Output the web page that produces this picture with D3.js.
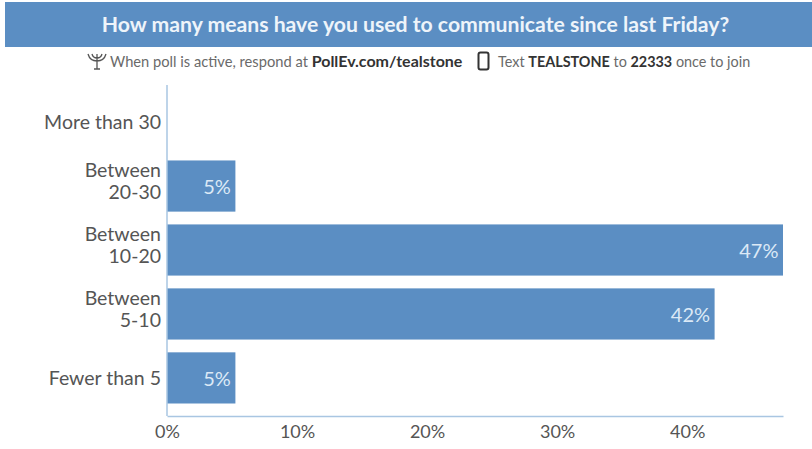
<!DOCTYPE html>
<html>
<head>
<meta charset="utf-8">
<script src="https://cdn.jsdelivr.net/npm/d3@7/dist/d3.min.js"></script>
<style>
html,body{margin:0;padding:0;background:#fff}
svg{display:block}
text{font-family:Lato,"Noto Sans",sans-serif}
</style>
</head>
<body>
<svg id="chart" width="812" height="449"></svg>
<script>
// Poll responses, top row first (shares of 19 responses, in percent)
const categories = ["More than 30", "Between 20-30", "Between 10-20", "Between 5-10", "Fewer than 5"];
const shares = [0, 5.26, 47.37, 42.11, 5.26];
const tickValues = [0, 10, 20, 30, 40];
const question = "How many means have you used to communicate since last Friday?";

const blue = "#5b8ec3";
const axisBlue = "#a9c6e2";
const svg = d3.select("#chart");

const x = d3.scaleLinear().domain([0, 47.37]).range([167, 783]);
const y = d3.scaleBand().domain(categories).range([96.5, 403.5]).paddingInner(0.2);

// Header band
svg.append("rect").attr("x", 5).attr("y", 2).attr("width", 807).attr("height", 45).attr("fill", blue);
svg.append("text").attr("x", 415.5).attr("y", 32).attr("text-anchor", "middle")
  .attr("fill", "#eef4fa").attr("font-size", 21.2).attr("font-weight", 700).text(question);

// Instruction line under the header
const note = svg.append("text").attr("x", 110).attr("y", 67).attr("font-size", 14.7).attr("fill", "#6a6a6a");
note.append("tspan").text("When poll is active, respond at ");
note.append("tspan").attr("font-size", 16).attr("font-weight", 700).attr("fill", "#333").text("PollEv.com/tealstone");
const note2 = svg.append("text").attr("x", 498).attr("y", 67).attr("font-size", 14.4).attr("fill", "#6a6a6a");
note2.append("tspan").text("Text ");
note2.append("tspan").attr("font-weight", 700).attr("fill", "#333").text("TEALSTONE");
note2.append("tspan").text(" to ");
note2.append("tspan").attr("font-weight", 700).attr("fill", "#333").text("22333");
note2.append("tspan").text(" once to join");

// Antenna glyph
const antenna = svg.append("g").attr("fill", "none").attr("stroke", "#555").attr("stroke-width", 1.3);
antenna.append("path").attr("d", "M88 54 Q90 61 97 61 Q104 61 106 54 M92 54 Q93 58 97 58 Q101 58 102 54 M97 54 V69 M94 69 H100");
// Phone glyph
svg.append("rect").attr("x", 478.5).attr("y", 52.5).attr("width", 10).attr("height", 17).attr("rx", 2)
  .attr("fill", "#fff").attr("stroke", "#333").attr("stroke-width", 2);

// Bars
svg.append("g").selectAll("rect").data(categories).join("rect")
  .attr("x", x(0))
  .attr("y", d => y(d))
  .attr("width", (d, i) => x(shares[i]) - x(0))
  .attr("height", y.bandwidth())
  .attr("fill", blue);

// Value labels inside the bars
svg.append("g").selectAll("text").data(categories.filter((d, i) => shares[i] > 0)).join("text")
  .attr("x", d => x(shares[categories.indexOf(d)]) - 4.5)
  .attr("y", d => y(d) + y.bandwidth() / 2 + 8)
  .attr("text-anchor", "end").attr("font-size", 20).attr("fill", "#dce9f6")
  .text(d => Math.round(shares[categories.indexOf(d)]) + "%");

// Category labels, wrapped onto two lines for the "Between" rows
const catLabels = svg.append("g").selectAll("text").data(categories).join("text")
  .attr("text-anchor", "end").attr("font-size", 19.5).attr("fill", "#555");
catLabels.each(function (d) {
  const t = d3.select(this);
  const mid = y(d) + y.bandwidth() / 2;
  if (d.startsWith("Between")) {
    const [a, b] = d.split(" ");
    t.append("tspan").attr("x", 161).attr("y", mid - 9).text(a);
    t.append("tspan").attr("x", 161).attr("y", mid + 13).text(b);
  } else {
    t.append("tspan").attr("x", 161).attr("y", mid + 7).text(d);
  }
});

// Axes
svg.append("line").attr("x1", x(0)).attr("x2", x(0)).attr("y1", 85).attr("y2", 416)
  .attr("stroke", axisBlue).attr("stroke-width", 1.5);
const xAxis = d3.axisBottom(x).tickValues(tickValues).tickSize(0).tickPadding(9).tickFormat(d => d + "%");
const gx = svg.append("g").attr("transform", "translate(0,416)").call(xAxis);
gx.select(".domain").attr("stroke", axisBlue).attr("stroke-width", 1.5);
gx.selectAll("text").attr("font-size", 18).attr("fill", "#555").style("font-family", 'Lato,"Noto Sans",sans-serif');
</script>
</body>
</html>
